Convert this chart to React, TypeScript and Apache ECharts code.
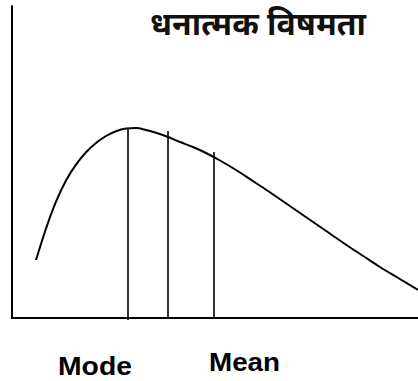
import React, { useEffect, useRef } from "react";
import * as echarts from "echarts";

// Curve of a positively skewed distribution (x, y in chart units)
const curveX = [24, 34, 44, 54, 64, 74, 84, 94, 104, 114, 124, 134, 144, 156, 168, 181, 194, 208, 224, 240, 256, 272, 288, 304, 320, 336, 352, 368, 387, 406];
const curveY = [58, 89.4, 116.3, 137.5, 153.3, 165.7, 175, 182, 186.7, 189.4, 190, 188, 185.2, 181, 176, 171, 165, 157.5, 148, 137.5, 127, 116, 105, 94, 83, 72, 61.5, 51, 39.5, 28];

// Vertical lines: mode, median, mean
const modeLine = { x: 116, top: 190, bottom: -2 };
const medianLine = { x: 156, top: 187, bottom: 0 };
const meanLine = { x: 202, top: 166, bottom: 0 };

const titleText = "धनात्मक विषमता";
const labelMode = "Mode";
const labelMean = "Mean";

export default function App() {
  const ref = useRef<HTMLDivElement>(null);
  useEffect(() => {
    if (!ref.current) return;
    const chart = echarts.init(ref.current, null, { renderer: "svg" });
    const curve = curveX.map((x, i) => [x, curveY[i]]);
    const vline = (l: { x: number; top: number; bottom: number }) => ({
      type: "line",
      data: [
        [l.x, l.bottom],
        [l.x, l.top],
      ],
      symbol: "none",
      clip: false,
      lineStyle: { color: "#000", width: 1.6 },
      silent: true,
    });
    chart.setOption({
      animation: false,
      backgroundColor: "#fff",
      grid: { left: 12, right: 0, top: 6, bottom: 63 },
      xAxis: {
        type: "value",
        min: 0,
        max: 406,
        axisLine: { show: true, lineStyle: { color: "#000", width: 2 } },
        axisTick: { show: false },
        axisLabel: { show: false },
        splitLine: { show: false },
      },
      yAxis: {
        type: "value",
        min: 0,
        max: 312,
        axisLine: { show: true, lineStyle: { color: "#000", width: 2 } },
        axisTick: { show: false },
        axisLabel: { show: false },
        splitLine: { show: false },
      },
      series: [
        {
          type: "line",
          data: curve,
          smooth: 0.3,
          symbol: "none",
          clip: false,
          lineStyle: { color: "#000", width: 2 },
        },
        vline(modeLine),
        vline(medianLine),
        vline(meanLine),
      ],
      graphic: [
        {
          type: "text",
          left: 150,
          top: 11,
          style: {
            text: titleText,
            font: "bold 32px 'Nirmala UI', Mangal, 'Noto Sans Devanagari', 'Lohit Devanagari', sans-serif",
            fill: "#111",
          },
        },
        {
          type: "text",
          x: 58,
          y: 353,
          scaleX: 1.09,
          style: {
            text: labelMode,
            font: "bold 26px 'Liberation Sans', Arial, sans-serif",
            fill: "#000",
          },
        },
        {
          type: "text",
          x: 209,
          y: 349,
          scaleX: 1.07,
          style: {
            text: labelMean,
            font: "bold 26px 'Liberation Sans', Arial, sans-serif",
            fill: "#000",
          },
        },
      ],
    });
    return () => chart.dispose();
  }, []);
  return (
    <div
      ref={ref}
      style={{ position: "fixed", left: 0, top: 0, width: 418, height: 381 }}
    />
  );
}
